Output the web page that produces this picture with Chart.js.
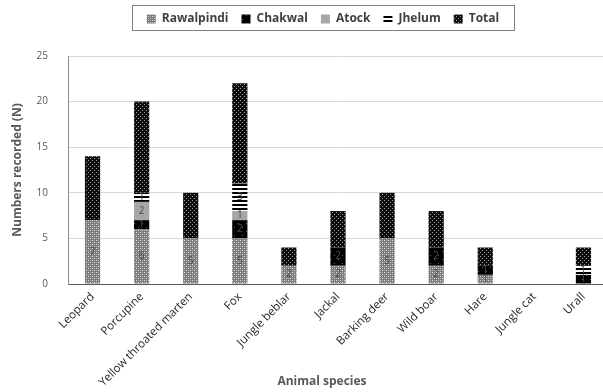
<!DOCTYPE html>
<html>
<head>
<meta charset="utf-8">
<script src="https://cdn.jsdelivr.net/npm/chart.js@4/dist/chart.umd.min.js"></script>
<style>
  html, body { margin: 0; padding: 0; background: #fff; overflow: hidden; }
  #wrap { width: 640px; height: 392px; position: relative; }
</style>
</head>
<body>
<div id="wrap"><canvas id="c" width="640" height="392"></canvas></div>
<script>
// Species recorded per district
const species = ['Leopard', 'Porcupine', 'Yellow throated marten', 'Fox', 'Jungle beblar', 'Jackal',
                 'Barking deer', 'Wild boar', 'Hare', 'Jungle cat', 'Urall'];
const rawalpindi = [7, 6, 5, 5, 2, 2, 5, 2, 1, 0, 0];
const chakwal    = [0, 1, 0, 2, 0, 2, 0, 2, 1, 0, 1];
const atock      = [0, 2, 0, 1, 0, 0, 0, 0, 0, 0, 0];
const jhelum     = [0, 1, 0, 3, 0, 0, 0, 0, 0, 0, 1];
const total      = [7, 10, 5, 11, 2, 4, 5, 4, 2, 0, 2];
const yTicks     = [0, 5, 10, 15, 20, 25];

const canvas = document.getElementById('c');
const ctx = canvas.getContext('2d');

// Small tiled fills for the monochrome series
function tile(size, paint) {
  const t = document.createElement('canvas');
  t.width = t.height = size;
  const g = t.getContext('2d');
  paint(g);
  return ctx.createPattern(t, 'repeat');
}
const dotsLight = tile(4, g => {
  g.fillStyle = '#7c7c7c'; g.fillRect(0, 0, 4, 4);
  g.fillStyle = '#e0e0e0'; g.fillRect(0, 0, 1, 1); g.fillRect(2, 2, 1, 1);
  g.fillStyle = '#a8a8a8'; g.fillRect(2, 0, 1, 1); g.fillRect(0, 2, 1, 1);
});
const solidDark = tile(8, g => {
  g.fillStyle = '#000'; g.fillRect(0, 0, 8, 8);
  g.fillStyle = '#666'; g.fillRect(2, 3, 1, 1); g.fillRect(6, 7, 1, 1);
});
const stripes = tile(4, g => {
  g.fillStyle = '#fff'; g.fillRect(0, 0, 4, 4);
  g.fillStyle = '#000'; g.fillRect(0, 0, 4, 2);
});
const dotsDark = tile(4, g => {
  g.fillStyle = '#0d0d0d'; g.fillRect(0, 0, 4, 4);
  g.fillStyle = '#9a9a9a'; g.fillRect(0, 0, 1, 1); g.fillRect(2, 2, 1, 1);
});

const FONT = "'Open Sans', 'Noto Sans', sans-serif";

// Value labels inside the district segments
const valueLabels = {
  id: 'valueLabels',
  afterDatasetsDraw(chart) {
    const c = chart.ctx;
    c.save();
    c.font = '10px ' + FONT;
    c.fillStyle = '#4a4a4a';
    c.textAlign = 'center';
    c.textBaseline = 'middle';
    chart.data.datasets.forEach((ds, i) => {
      if (ds.label === 'Total') return;
      chart.getDatasetMeta(i).data.forEach((bar, j) => {
        const v = ds.data[j];
        if (!v) return;
        c.fillText(String(v), bar.x, (bar.y + bar.base) / 2);
      });
    });
    c.restore();
  }
};

// Axis titles, legend placement and the frame around the legend
const decorations = {
  id: 'decorations',
  afterInit(chart) {
    const lg = chart.legend;
    if (lg) {
      const fit = lg.fit.bind(lg);
      lg.fit = function () { fit(); this.height = 56; };
    }
  },
  afterLayout(chart) {
    const lg = chart.legend;
    if (lg) { lg.left += 3; lg.right += 3; }
  },
  afterDraw(chart) {
    const c = chart.ctx;
    c.save();
    c.fillStyle = '#595959';
    c.font = 'bold 12px ' + FONT;
    c.textAlign = 'center';
    c.textBaseline = 'middle';
    const a = chart.chartArea;
    c.fillText('Animal species', 322, 382);
    c.translate(18, (a.top + a.bottom) / 2);
    c.rotate(-Math.PI / 2);
    c.fillText('Numbers recorded (N)', 0, 0);
    c.restore();

    const boxes = chart.legend && chart.legend.legendHitBoxes;
    if (boxes && boxes.length) {
      const l = Math.min(...boxes.map(b => b.left)) - 15;
      const r = Math.max(...boxes.map(b => b.left + b.width)) + 15;
      c.save();
      c.strokeStyle = '#7f7f7f';
      c.lineWidth = 1;
      c.strokeRect(Math.round(l) + 0.5, 5.5, Math.round(r - l), 25);
      c.restore();
    }
  }
};

new Chart(ctx, {
  type: 'bar',
  data: {
    labels: species,
    datasets: [
      { label: 'Rawalpindi', data: rawalpindi, backgroundColor: dotsLight },
      { label: 'Chakwal',    data: chakwal,    backgroundColor: solidDark },
      { label: 'Atock',      data: atock,      backgroundColor: '#a6a6a6' },
      { label: 'Jhelum',     data: jhelum,     backgroundColor: stripes },
      { label: 'Total',      data: total,      backgroundColor: dotsDark }
    ]
  },
  options: {
    responsive: false,
    animation: false,
    devicePixelRatio: 1,
    layout: { padding: { left: 32, right: 32, top: 0, bottom: 0 } },
    datasets: { bar: { barPercentage: 0.62, categoryPercentage: 0.5, borderWidth: 0 } },
    plugins: {
      legend: {
        position: 'top',
        labels: {
          boxWidth: 9, boxHeight: 9, padding: 13,
          color: '#404040',
          font: { family: FONT, size: 12, weight: 'bold' }
        }
      },
      tooltip: { enabled: false }
    },
    scales: {
      x: {
        stacked: true,
        grid: { display: false, drawTicks: false },
        border: { display: true, color: '#595959', width: 1 },
        ticks: {
          minRotation: 45, maxRotation: 45, padding: 6,
          color: '#262626',
          font: { family: FONT, size: 11.5 }
        },
        afterFit(s) { s.height = 108; }
      },
      y: {
        stacked: true,
        min: 0, max: 25,
        afterBuildTicks(s) { s.ticks = yTicks.map(v => ({ value: v })); },
        grid: { color: '#d9d9d9', drawTicks: false },
        border: { display: true, color: '#8c8c8c', width: 1 },
        ticks: {
          padding: 20,
          color: '#595959',
          font: { family: FONT, size: 10 }
        },
        afterFit(s) { s.width = 36; }
      }
    }
  },
  plugins: [valueLabels, decorations]
});
</script>
</body>
</html>
